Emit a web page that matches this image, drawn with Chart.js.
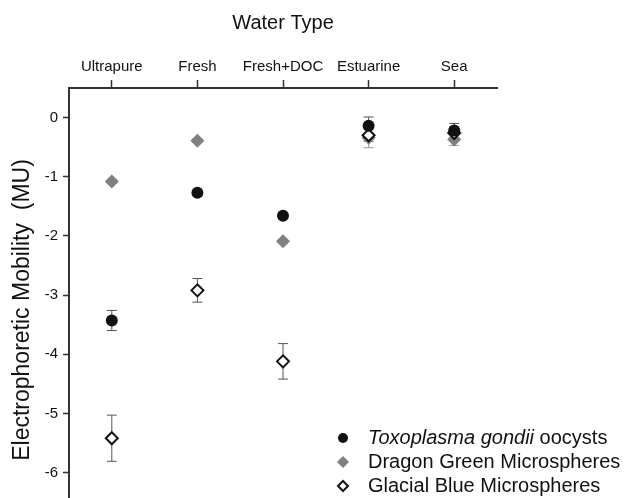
<!DOCTYPE html>
<html>
<head>
<meta charset="utf-8">
<script src="https://cdn.jsdelivr.net/npm/chart.js@4/dist/chart.umd.min.js"></script>
<style>
  html, body { margin: 0; padding: 0; background: #fff; overflow: hidden; }
</style>
</head>
<body>
<canvas id="chart" width="627" height="498"></canvas>
<script>
// data
var waterTypes = ['Ultrapure', 'Fresh', 'Fresh+DOC', 'Estuarine', 'Sea'];
var yTicks = [-6, -5, -4, -3, -2, -1, 0];

var toxoplasma = [-3.43, -1.27, -1.66, -0.14, -0.22];
var toxoplasmaErr = [0.17, 0.04, 0.04, 0.15, 0.12];

var dragonGreen = [-1.08, -0.39, -2.09, -0.34, -0.37];
var dragonGreenErr = [0.03, 0.03, 0.03, 0.17, 0.10];

var glacialBlue = [-5.42, -2.92, -4.12, -0.30, -0.26];
var glacialBlueErr = [0.39, 0.20, 0.30, 0.10, 0.08];

var FONT = "'Liberation Sans', Arial, sans-serif";
var AXIS = '#333';
var yTitle = 'Electrophoretic Mobility  (MU)';

var legendRows = [
    { style: 'circle', bg: '#111', bw: 0, r: 5, parts: [['italic', 'Toxoplasma gondii'], ['normal', ' oocysts']] },
    { style: 'rectRot', bg: '#808080', bw: 0, r: 6, parts: [['normal', 'Dragon Green Microspheres']] },
    { style: 'rectRot', bg: '#fff', bw: 2, r: 5, parts: [['normal', 'Glacial Blue Microspheres']] }
];

var errorBars = {
    id: 'errorBars',
    beforeDatasetsDraw: function(chart) {
        var ctx = chart.ctx;
        var x = chart.scales.x, y = chart.scales.y;
        ctx.save();
        chart.data.datasets.forEach(function(ds) {
            if (!ds.errors) return;
            ctx.strokeStyle = ds.errColor;
            ctx.lineWidth = 1;
            ds.data.forEach(function(v, i) {
                var e = ds.errors[i];
                var px = x.getPixelForValue(i);
                var top = y.getPixelForValue(v + e);
                var bot = y.getPixelForValue(v - e);
                ctx.beginPath();
                ctx.moveTo(px, top); ctx.lineTo(px, bot);
                ctx.moveTo(px - 5, top); ctx.lineTo(px + 5, top);
                ctx.moveTo(px - 5, bot); ctx.lineTo(px + 5, bot);
                ctx.stroke();
            });
        });
        ctx.restore();
    }
};

// y title drawn by hand so it can sit a bit below the plot centre, as in the original
var yTitleText = {
    id: 'yTitleText',
    afterDraw: function(chart) {
        var ctx = chart.ctx;
        ctx.save();
        ctx.translate(23, 310);
        ctx.rotate(-Math.PI / 2);
        ctx.font = '23px ' + FONT;
        ctx.fillStyle = '#111';
        ctx.textAlign = 'center';
        ctx.textBaseline = 'middle';
        ctx.fillText(yTitle, 0, 0);
        ctx.restore();
    }
};

var legendBox = {
    id: 'legendBox',
    afterDraw: function(chart) {
        var ctx = chart.ctx;
        var markX = 343, textX = 368, rowY = 438, step = 24;
        ctx.save();
        legendRows.forEach(function(row, k) {
            var cy = rowY + k * step;
            ctx.fillStyle = row.bg;
            ctx.strokeStyle = '#111';
            ctx.lineWidth = row.bw;
            Chart.helpers.drawPoint(ctx, { pointStyle: row.style, radius: row.r, borderWidth: row.bw }, markX, cy);
            var tx = textX;
            ctx.fillStyle = '#111';
            ctx.textBaseline = 'middle';
            row.parts.forEach(function(p) {
                ctx.font = p[0] + ' 20px ' + FONT;
                ctx.fillText(p[1], tx, cy);
                tx += ctx.measureText(p[1]).width;
            });
        });
        ctx.restore();
    }
};

new Chart(document.getElementById('chart'), {
    type: 'line',
    data: {
        labels: waterTypes,
        datasets: [{
            label: 'Toxoplasma gondii oocysts',
            data: toxoplasma,
            errors: toxoplasmaErr,
            errColor: '#555',
            showLine: false,
            pointStyle: 'circle',
            pointRadius: 6,
            pointBackgroundColor: '#111',
            pointBorderColor: '#111',
            pointBorderWidth: 0,
            order: 1
        }, {
            label: 'Glacial Blue Microspheres',
            data: glacialBlue,
            errors: glacialBlueErr,
            errColor: '#555',
            showLine: false,
            pointStyle: 'rectRot',
            pointRadius: 6,
            pointBackgroundColor: '#fff',
            pointBorderColor: '#111',
            pointBorderWidth: 2,
            order: 2
        }, {
            label: 'Dragon Green Microspheres',
            data: dragonGreen,
            errors: dragonGreenErr,
            errColor: '#999',
            showLine: false,
            pointStyle: 'rectRot',
            pointRadius: 7,
            pointBackgroundColor: '#808080',
            pointBorderColor: '#808080',
            pointBorderWidth: 0,
            order: 3
        }]
    },
    options: {
        responsive: false,
        animation: false,
        layout: { autoPadding: false, padding: { left: 0, right: 130, top: 0, bottom: 0 } },
        plugins: {
            legend: { display: false },
            tooltip: { enabled: false }
        },
        scales: {
            x: {
                type: 'category',
                position: 'top',
                offset: true,
                afterFit: function(s) { s.height = 88; },
                grid: { display: true, drawOnChartArea: false, offset: false, tickLength: 8, tickColor: AXIS, tickWidth: 1.5 },
                border: { display: true, color: AXIS, width: 2 },
                ticks: { color: '#111', padding: 4, maxRotation: 0, font: { family: FONT, size: 15 } },
                title: { display: true, text: 'Water Type', color: '#111', padding: { top: 11, bottom: 0 }, font: { family: FONT, size: 20 } }
            },
            y: {
                type: 'linear',
                min: -6.43,
                max: 0.5,
                afterFit: function(s) { s.width = 69; s.paddingTop = 0; s.paddingBottom = 0; },
                afterBuildTicks: function(s) { s.ticks = yTicks.map(function(v) { return { value: v }; }); },
                grid: { display: true, drawOnChartArea: false, tickLength: 6, tickColor: AXIS, tickWidth: 1.5 },
                border: { display: true, color: AXIS, width: 2 },
                ticks: { color: '#111', padding: 5, font: { family: FONT, size: 15 } },
                title: { display: false }
            }
        }
    },
    plugins: [errorBars, yTitleText, legendBox]
});
</script>
</body>
</html>
